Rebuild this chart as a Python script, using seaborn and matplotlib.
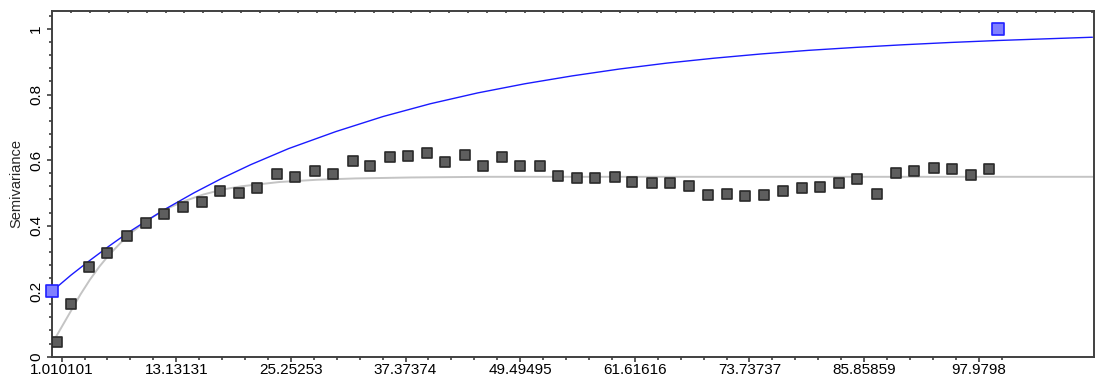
import numpy as np
import pandas as pd
import matplotlib
matplotlib.use("Agg")
import matplotlib.pyplot as plt
from matplotlib.ticker import FixedLocator
import seaborn as sns

# experimental semivariogram points (lag, semivariance)
lag = [0.55, 1.97, 3.90, 5.80, 7.92, 9.93, 11.83, 13.84, 15.85, 17.75,
       19.76, 21.66, 23.77, 25.68, 27.79, 29.69, 31.81, 33.60, 35.72, 37.62,
       39.63, 41.53, 43.65, 45.55, 47.56, 49.46, 51.57, 53.48, 55.49, 57.39,
       59.50, 61.30, 63.41, 65.31, 67.32, 69.33, 71.34, 73.25, 75.25, 77.26,
       79.27, 81.17, 83.18, 85.08, 87.19, 89.20, 91.11, 93.22, 95.13, 97.14,
       99.04]
semiv = [0.044, 0.162, 0.274, 0.316, 0.368, 0.408, 0.435, 0.457, 0.472, 0.506,
         0.500, 0.515, 0.557, 0.548, 0.567, 0.557, 0.597, 0.582, 0.610, 0.613,
         0.622, 0.594, 0.616, 0.582, 0.610, 0.582, 0.582, 0.552, 0.546, 0.546,
         0.549, 0.533, 0.530, 0.530, 0.521, 0.494, 0.497, 0.491, 0.494, 0.506,
         0.515, 0.518, 0.530, 0.543, 0.497, 0.561, 0.567, 0.576, 0.573, 0.555,
         0.573]

# fitted model (gray)
fit_x = [0.3, 1, 2, 3, 4, 5, 6, 8, 10, 12, 14, 16, 18, 20, 24, 28, 32, 38, 46, 60, 110]
fit_y = [0.055, 0.09, 0.14, 0.19, 0.235, 0.275, 0.31, 0.37, 0.415, 0.45, 0.475,
         0.495, 0.51, 0.52, 0.533, 0.540, 0.544, 0.547, 0.549, 0.549, 0.549]

# user model (blue)
user_x = [0, 2, 4, 6, 8, 10, 12, 15, 18, 21, 25, 30, 35, 40, 45, 50, 55, 60,
          65, 70, 75, 80, 85, 90, 95, 100, 105, 110]
user_y = [0.200, 0.249, 0.294, 0.337, 0.378, 0.415, 0.451, 0.500, 0.545, 0.586,
          0.635, 0.687, 0.733, 0.772, 0.805, 0.833, 0.857, 0.878, 0.896, 0.911,
          0.924, 0.935, 0.944, 0.952, 0.959, 0.965, 0.970, 0.975]

# handles of the blue model (nugget, sill)
handle_x = [0.0, 100.0]
handle_y = [0.2, 1.0]

xtick_vals = [1.010101, 13.13131, 25.25253, 37.37374, 49.49495,
              61.61616, 73.73737, 85.85859, 97.9798]
xtick_labels = ["1.010101", "13.13131", "25.25253", "37.37374", "49.49495",
                "61.61616", "73.73737", "85.85859", "97.9798"]
ytick_vals = [0, 0.2, 0.4, 0.6, 0.8, 1.0]
ytick_labels = ["0", "0.2", "0.4", "0.6", "0.8", "1"]

sns.set_style("ticks")
plt.rcParams["font.family"] = ["Liberation Sans", "DejaVu Sans"]

SPINE = "#404040"

fig = plt.figure(figsize=(10.99, 3.83), dpi=100)
fig.patch.set_facecolor("white")
ax = fig.add_axes([0.0474, 0.0687, 0.9483, 0.9034])
ax.set_facecolor("white")

sns.lineplot(x=fit_x, y=fit_y, color="#c4c4c4", linewidth=1.4, ax=ax, zorder=2)
sns.lineplot(x=user_x, y=user_y, color="#1a1aff", linewidth=1.0, ax=ax, zorder=3)
sns.scatterplot(x=lag, y=semiv, marker="s", s=50, color="#5e5e5e",
                edgecolor="#2a2a2a", linewidth=1.2, ax=ax, zorder=4)
sns.scatterplot(x=handle_x, y=handle_y, marker="s", s=85, color="#8080ff",
                edgecolor="#2020ff", linewidth=1.2, ax=ax, zorder=5, clip_on=False)

ax.set_xlim(0, 110.2)
ax.set_ylim(0, 1.056)

ax.set_xticks(xtick_vals)
ax.set_xticklabels(xtick_labels)
ax.xaxis.set_minor_locator(FixedLocator([1.010101 + 2.424242 * k for k in range(42)]))
ax.set_yticks(ytick_vals)
ax.set_yticklabels(ytick_labels, rotation=90, va="center")
ax.yaxis.set_minor_locator(FixedLocator(np.arange(0, 1.06, 0.04)))

ax.tick_params(axis="x", which="major", length=3.5, width=1.2, color=SPINE,
               labelsize=11, pad=1, labelcolor="black")
ax.tick_params(axis="x", which="minor", length=2, width=1.2, color=SPINE)
ax.tick_params(axis="y", which="major", length=3.5, width=1.2, color=SPINE,
               labelsize=11, pad=3, labelcolor="black")
ax.tick_params(axis="y", which="minor", length=2, width=1.2, color=SPINE)

top = ax.secondary_xaxis("top")
top.set_xticks(np.arange(2, 111, 2))
top.tick_params(axis="x", direction="in", length=1.5, width=1.2, color=SPINE,
                labeltop=False)
top.spines["top"].set_visible(False)

for side in ["left", "bottom", "top", "right"]:
    ax.spines[side].set_visible(True)
    ax.spines[side].set_color(SPINE)
    ax.spines[side].set_linewidth(1.4)

ax.set_xlabel("")
ax.set_ylabel("Semivariance", fontsize=10.5, labelpad=4)

fig.savefig("out.png", dpi=100, facecolor="white")
plt.close(fig)
